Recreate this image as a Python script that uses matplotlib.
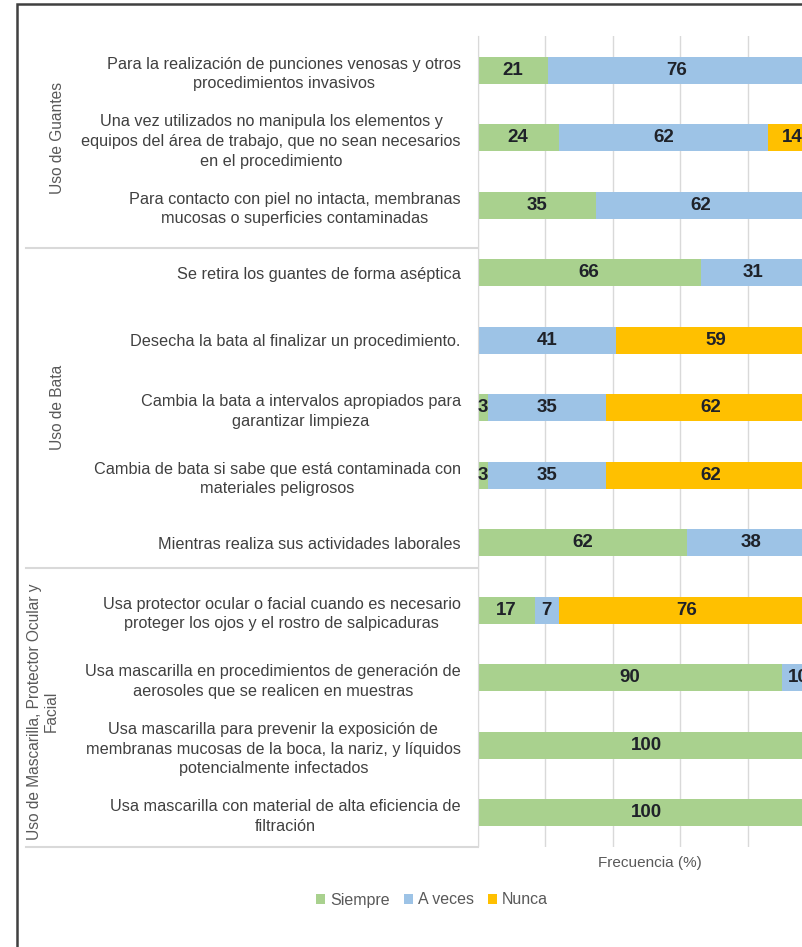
import matplotlib
matplotlib.use('Agg')
import matplotlib.pyplot as plt
import numpy as np
from matplotlib.patches import Patch, Rectangle
from matplotlib.lines import Line2D

plt.rcParams['font.family'] = ['Liberation Sans', 'DejaVu Sans']

# categories, top to bottom
categories = [
    'Para la realización de punciones venosas y otros\nprocedimientos invasivos',
    'Una vez utilizados no manipula los elementos y\nequipos del área de trabajo, que no sean necesarios\nen el procedimiento',
    'Para contacto con piel no intacta, membranas\nmucosas o superficies contaminadas',
    'Se retira los guantes de forma aséptica',
    'Desecha la bata al finalizar un procedimiento.',
    'Cambia la bata a intervalos apropiados para\ngarantizar limpieza',
    'Cambia de bata si sabe que está contaminada con\nmateriales peligrosos',
    'Mientras realiza sus actividades laborales',
    'Usa protector ocular o facial cuando es necesario\nproteger los ojos y el rostro de salpicaduras',
    'Usa mascarilla en procedimientos de generación de\naerosoles que se realicen en muestras',
    'Usa mascarilla para prevenir la exposición de\nmembranas mucosas de la boca, la nariz, y líquidos\npotencialmente infectados',
    'Usa mascarilla con material de alta eficiencia de\nfiltración',
]
siempre = [21, 24, 35, 66, 0, 3, 3, 62, 17, 90, 100, 100]
a_veces = [76, 62, 62, 31, 41, 35, 35, 38, 7, 10, 0, 0]
nunca = [3, 14, 3, 3, 59, 62, 62, 0, 76, 0, 0, 0]

groups = ['Uso de Guantes', 'Uso de Bata',
          'Uso de Mascarilla, Protector Ocular y\nFacial']
group_rows = [(0, 2), (3, 7), (8, 11)]
group_x = [57, 57, 43]

series_names = ['Siempre', 'A veces', 'Nunca']
colors = ['#A9D18E', '#9DC3E6', '#FFC000']

W, H = 802, 947
fig = plt.figure(figsize=(W / 100, H / 100), dpi=100)
fig.patch.set_facecolor('white')

# plot area runs past the right edge like the cropped original
ax = fig.add_axes([477.5 / W, 1 - 846.5 / H, 338 / W, 810.2 / H])

narrow = ['Liberation Sans Narrow', 'Liberation Sans']
y = np.arange(len(categories))
left = np.zeros(len(categories))
for vals, col in zip([siempre, a_veces, nunca], colors):
    vals = np.array(vals, dtype=float)
    ax.barh(y, vals, left=left, height=0.4, color=col, zorder=2)
    for yi, (l, v) in enumerate(zip(left, vals)):
        xc = l + v / 2
        # labels whose centre falls outside the cropped picture are not shown there
        if v > 0 and xc < 96:
            ax.text(xc, yi, '%d' % v, ha='center', va='center',
                    fontsize=13.5, fontweight='bold', family=narrow,
                    color='#1f2229', zorder=3)
    left += vals

ax.set_xlim(0, 100)
ax.set_ylim(len(categories) - 0.5, -0.5)
ax.set_xticks(np.arange(0, 101, 20))
ax.set_xticklabels([])
ax.tick_params(axis='x', length=0)
ax.grid(axis='x', color='#D9D9D9', linewidth=1, zorder=0)
ax.set_yticks(y)
ax.set_yticklabels(categories, fontsize=11.7, color='#404040')
ax.tick_params(axis='y', length=0, pad=12)
for lab in ax.get_yticklabels():
    lab.set_multialignment('center')
    lab.set_linespacing(1.4)
for s in ['top', 'right', 'bottom']:
    ax.spines[s].set_visible(False)
ax.spines['left'].set_color('#D9D9D9')

# group labels of the category axis
for name, (r0, r1), gx in zip(groups, group_rows, group_x):
    yc = ax.transData.transform((0, (r0 + r1) / 2))[1]
    fig.text(gx / W, yc / fig.dpi / fig.get_figheight(), name, rotation=90,
             ha='center', va='center', fontsize=11.2, color='#595959',
             multialignment='center')

# separators between the groups
for ys in [247.7, 568.3, 846.5]:
    fig.add_artist(Line2D([26 / W, 477 / W], [1 - ys / H, 1 - ys / H],
                          color='#D9D9D9', linewidth=1.5))

fig.text(650 / W, 1 - 863 / H, 'Frecuencia (%)', ha='center', va='center',
         fontsize=11, color='#595959')

handles = [Patch(facecolor=c, edgecolor='none') for c in colors]
fig.legend(handles, series_names, loc='center',
           bbox_to_anchor=(432 / W, 1 - 900 / H), ncol=3, frameon=False,
           fontsize=11.5, handlelength=0.55, handleheight=0.55,
           handletextpad=0.3, columnspacing=0.9, labelcolor='#595959')

# outer chart frame (cropped on the right and bottom)
fig.add_artist(Rectangle((17 / W, -0.1), 1.2, 1 - 4 / H + 0.1,
                         transform=fig.transFigure, fill=False,
                         edgecolor='#404040', linewidth=1.8))

fig.savefig('out.png', dpi=100)
